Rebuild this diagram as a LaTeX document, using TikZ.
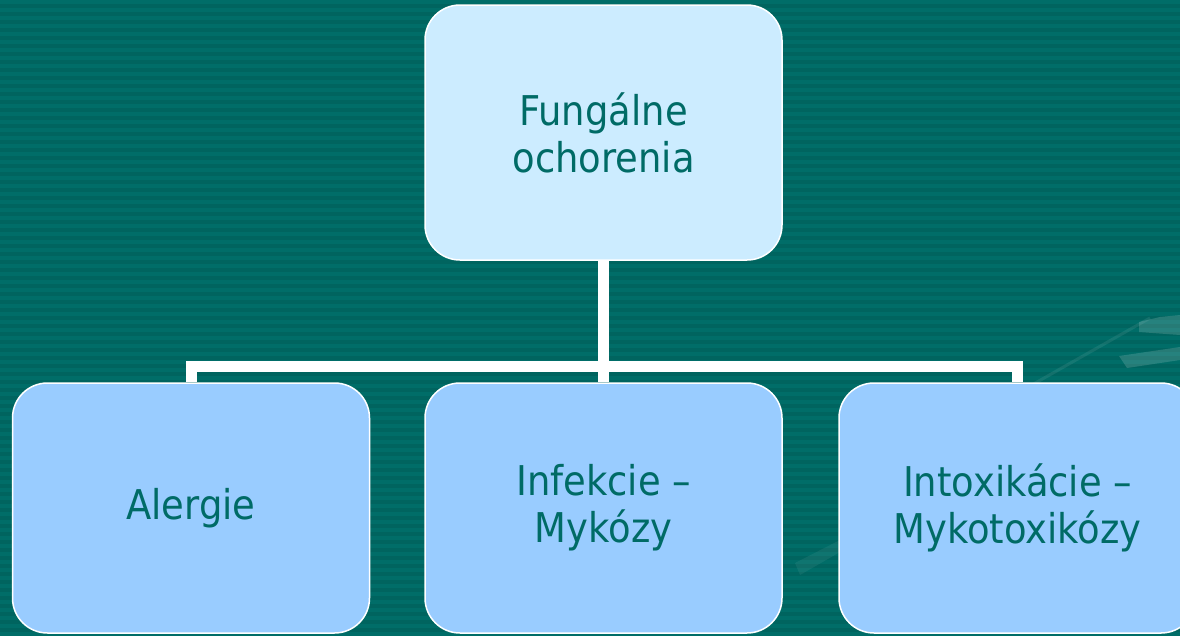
\documentclass[tikz,border=0pt]{standalone}
\usepackage{fontspec}
\setmainfont[FakeStretch=0.9]{DejaVu Sans}
\definecolor{bgteal}{RGB}{0,100,95}
\definecolor{stripeteal}{RGB}{0,109,104}
\definecolor{textteal}{RGB}{0,107,102}
\definecolor{topblue}{RGB}{204,236,255}
\definecolor{subblue}{RGB}{153,204,255}
\tikzset{
  box/.style={draw=white, line width=1.5pt, rounded corners=35pt,
    minimum width=357pt, text=textteal, align=center,
    font=\fontsize{41}{47}\selectfont},
  link/.style={draw=white, line width=11pt, line join=miter}
}

\begin{document}
\begin{tikzpicture}[x=1pt,y=-1pt]
  \useasboundingbox (0,0) rectangle (1180,635);
  \clip (0,0) rectangle (1180,635);
  % background
  \fill[bgteal] (0,0) rectangle (1180,635);
  \foreach \y in {0,8,...,632}
    \fill[stripeteal] (0,\y) rectangle (1180,\y+4);
  % swoosh
  \fill[white, opacity=0.15] (1139,322) -- (1160,317) -- (1180,315) -- (1180,335) -- (1139,332) -- cycle;
  \fill[white, opacity=0.15] (1119,356) -- (1180,347) -- (1180,360) -- (1127,368) -- cycle;
  \draw[white, opacity=0.08, line width=3pt] (1030,386) -- (1150,318);
  \fill[white, opacity=0.06] (795,563) -- (840,540) -- (840,552) -- (800,575) -- cycle;

  \coordinate (bus) at (0,366);
  \node[box, fill=topblue, minimum height=255pt] (top) at (603.5,132.5) {Fungálne\\ochorenia};
  \node[box, fill=subblue, minimum height=250pt] (alergie) at (191,508) {Alergie};
  \node[box, fill=subblue, minimum height=250pt] (infekcie) at (603.5,508) {Infekcie –\\Mykózy};
  \node[box, fill=subblue, minimum height=250pt] (intox) at (1017.5,508) {Intoxikácie –\\Mykotoxikózy};

  \draw[link] (top.south) -- (infekcie.north);
  \draw[link] (alergie.north) -- (alergie.north |- bus) -| (intox.north);
\end{tikzpicture}
\end{document}
